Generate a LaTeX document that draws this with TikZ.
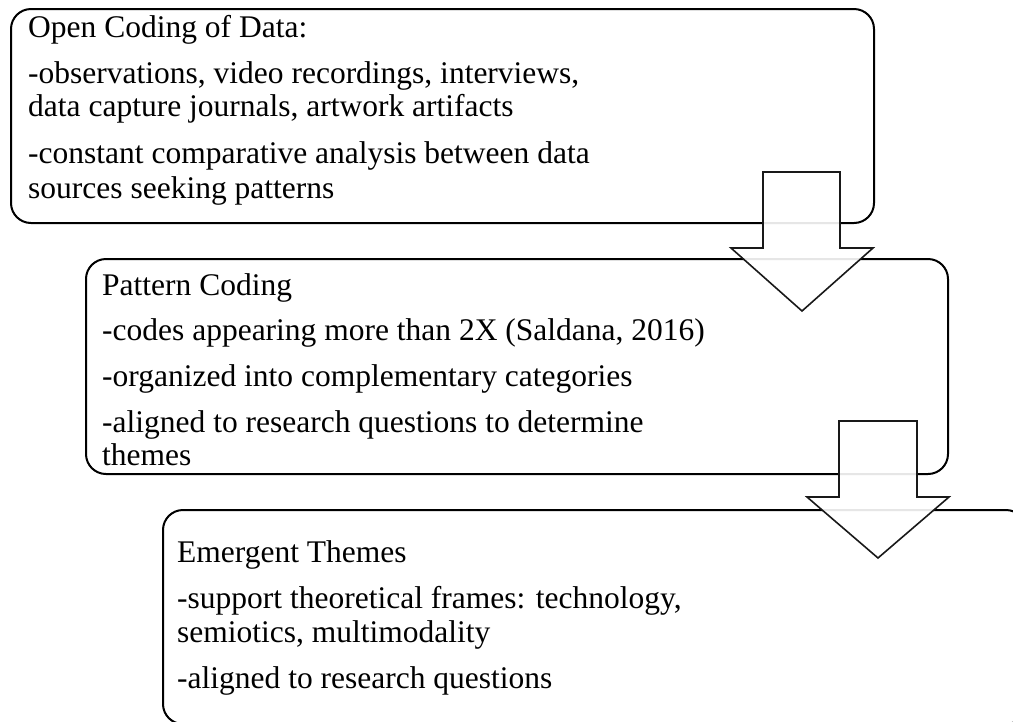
\documentclass[tikz,border=0pt]{standalone}
\usepackage{fontspec}
\setmainfont{Liberation Serif}
\begin{document}
\begin{tikzpicture}[x=1pt,y=-1pt,
  box/.style={draw=black,line width=2pt,rounded corners=20pt,inner sep=0pt,anchor=north west},
  blockarrow/.style={draw=black!90,line width=1.6pt,fill=white,fill opacity=0.9,line join=miter},
  txt/.style={anchor=base west,inner sep=0pt,font=\fontsize{31.5pt}{34pt}\selectfont}]
\useasboundingbox (0,0) rectangle (1013,721);
\clip (0,0) rectangle (1013,721);
% boxes
\node[box,minimum width=863pt,minimum height=214pt] (b1) at (10,8) {};
\node[box,minimum width=862pt,minimum height=215pt] (b2) at (85,258) {};
\node[box,minimum width=863pt,minimum height=214pt] (b3) at (162,509) {};
% box 1 text
\node[txt] (t11) at (28,37) {Open Coding of Data:};
\node[txt] (t12) at (28,83) {-observations, video recordings, interviews,};
\node[txt] (t13) at (28,116) {data capture journals, artwork artifacts};
\node[txt] (t14) at (28,163) {-constant comparative analysis between data};
\node[txt] (t15) at (28,198) {sources seeking patterns};
% box 2 text
\node[txt] (t21) at (102,295) {Pattern Coding};
\node[txt] (t22) at (102,340) {-codes appearing more than 2X (Saldana, 2016)};
\node[txt] (t23) at (102,386) {-organized into complementary categories};
\node[txt] (t24) at (102,432) {-aligned to research questions to determine};
\node[txt] (t25) at (102,465) {themes};
% box 3 text
\node[txt] (t31) at (177,562) {Emergent Themes};
\node[txt] (t32) at (177,608) {-support theoretical frames: technology,};
\node[txt] (t33) at (177,642) {semiotics, multimodality};
\node[txt] (t34) at (177,688) {-aligned to research questions};
% block arrows
\draw[blockarrow] (763,172) -- (840,172) -- (840,248) -- (873,248) -- (802,311) -- (731,248) -- (763,248) -- cycle;
\draw[blockarrow] (839,421) -- (917,421) -- (917,497) -- (949,497) -- (878,558) -- (807,497) -- (839,497) -- cycle;
\end{tikzpicture}
\end{document}
